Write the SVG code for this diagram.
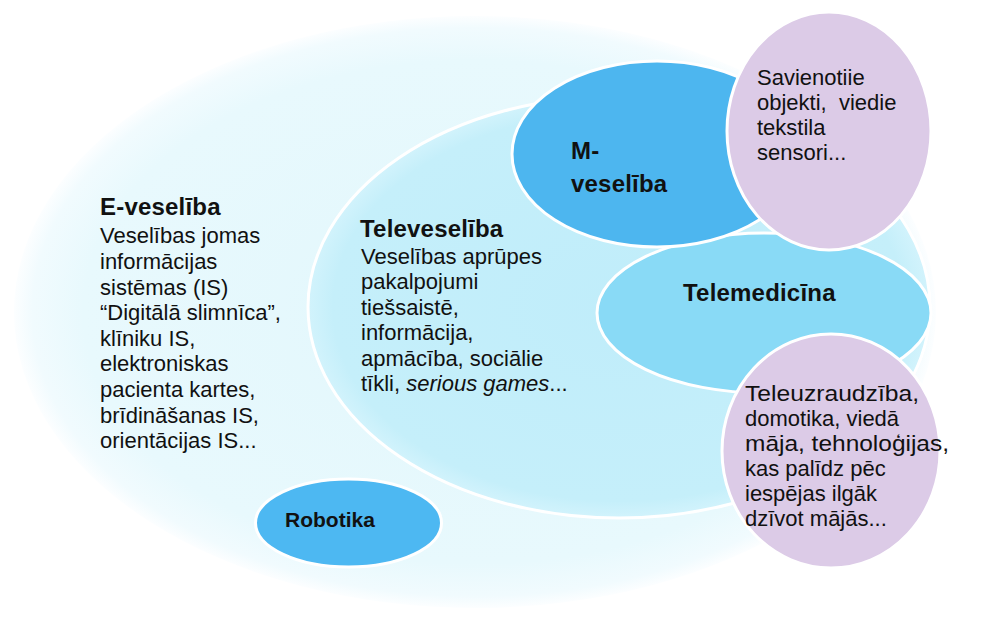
<svg xmlns="http://www.w3.org/2000/svg" width="996" height="628" viewBox="0 0 996 628">
  <defs>
    <radialGradient id="gOuter" cx="0.5" cy="0.5" r="0.5">
      <stop offset="0" stop-color="#e2f7fc"/>
      <stop offset="0.85" stop-color="#e8f9fd"/>
      <stop offset="0.96" stop-color="#f1fbfe"/>
      <stop offset="1" stop-color="#fcfeff"/>
    </radialGradient>
    <radialGradient id="gTele" cx="0.5" cy="0.5" r="0.5">
      <stop offset="0" stop-color="#c0edfa"/>
      <stop offset="0.92" stop-color="#c5effa"/>
      <stop offset="1" stop-color="#d2f3fc"/>
    </radialGradient>
  </defs>
  <style>
    .shape { stroke: #ffffff; stroke-width: 3; }
    .t { font-family: "Liberation Sans", Arial, sans-serif; fill: #111111; }
    .body { font-size: 22px; }
    .title { font-size: 24px; font-weight: bold; letter-spacing: 0.2px; }
    .pre { white-space: pre; }
  </style>
  <rect width="996" height="628" fill="#ffffff"/>

  <g id="e-veseliba">
    <ellipse cx="475" cy="312" rx="461" ry="296" fill="url(#gOuter)"/>
    <text class="t title" x="100" y="215">E-veselība</text>
    <text class="t body">
      <tspan x="100" y="243.3">Veselības jomas</tspan>
      <tspan x="100" y="268.9">informācijas</tspan>
      <tspan x="100" y="294.5">sistēmas (IS)</tspan>
      <tspan x="100" y="320.1">“Digitālā slimnīca”,</tspan>
      <tspan x="100" y="345.7">klīniku IS,</tspan>
      <tspan x="100" y="371.3">elektroniskas</tspan>
      <tspan x="100" y="396.9">pacienta kartes,</tspan>
      <tspan x="100" y="422.5">brīdināšanas IS,</tspan>
      <tspan x="100" y="448.1">orientācijas IS...</tspan>
    </text>
  </g>

  <g id="televeseliba">
    <ellipse class="shape" cx="619" cy="307" rx="311" ry="211" fill="url(#gTele)"/>
    <text class="t title" x="360" y="237">Televeselība</text>
    <text class="t body">
      <tspan x="361" y="264">Veselības aprūpes</tspan>
      <tspan x="361" y="289.4">pakalpojumi</tspan>
      <tspan x="361" y="314.8">tiešsaistē,</tspan>
      <tspan x="361" y="340.2">informācija,</tspan>
      <tspan x="361" y="365.6">apmācība, sociālie</tspan>
      <tspan x="361" y="391">tīkli, <tspan font-style="italic">serious games</tspan>...</tspan>
    </text>
  </g>

  <g id="robotika">
    <ellipse class="shape" cx="348.5" cy="523" rx="93" ry="44" fill="#4db8f2"/>
    <text class="t" x="285" y="527" style="font-size:21px;font-weight:bold">Robotika</text>
  </g>

  <g id="telemedicina">
    <ellipse class="shape" cx="764" cy="313" rx="167" ry="80" fill="#89daf6"/>
    <text class="t title" x="683" y="301">Telemedicīna</text>
  </g>

  <g id="m-veseliba">
    <ellipse class="shape" cx="657" cy="154" rx="145" ry="93" fill="#4db6ef"/>
    <text class="t title" x="571" y="159">M-</text>
    <text class="t title" x="571" y="192">veselība</text>
  </g>

  <g id="savienotie-objekti">
    <ellipse class="shape" cx="829" cy="131" rx="102" ry="119" fill="#dccbe7"/>
    <text class="t body pre">
      <tspan x="757" y="85">Savienotiie</tspan>
      <tspan x="757" y="110">objekti,  viedie</tspan>
      <tspan x="757" y="135">tekstila</tspan>
      <tspan x="757" y="160">sensori...</tspan>
    </text>
  </g>

  <g id="teleuzraudziba">
    <ellipse class="shape" cx="831" cy="451" rx="109" ry="117" fill="#dccbe7"/>
    <text class="t body">
      <tspan x="745" y="400.5" textLength="174" lengthAdjust="spacingAndGlyphs">Teleuzraudzība,</tspan>
      <tspan x="745" y="425.5">domotika, viedā</tspan>
      <tspan x="745" y="450.5" textLength="204" lengthAdjust="spacingAndGlyphs">māja, tehnoloģijas,</tspan>
      <tspan x="745" y="475.5">kas palīdz pēc</tspan>
      <tspan x="745" y="500.5">iespējas ilgāk</tspan>
      <tspan x="745" y="525.5">dzīvot mājās...</tspan>
    </text>
  </g>
</svg>
